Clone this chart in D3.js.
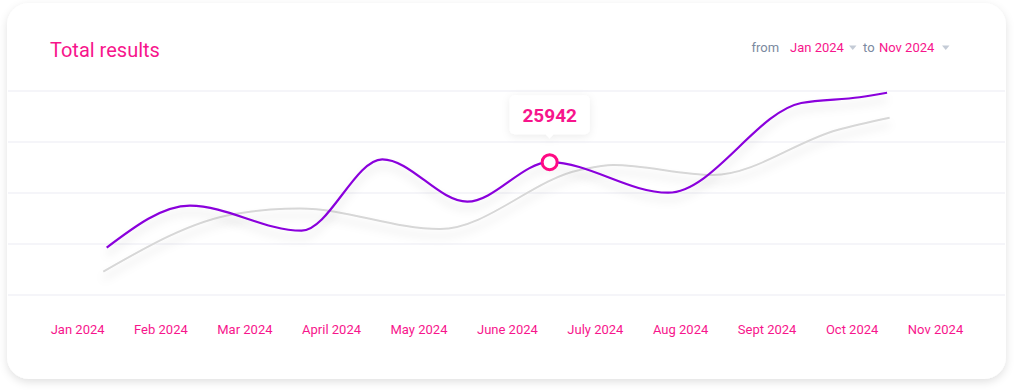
<!DOCTYPE html>
<html>
<head>
<meta charset="utf-8">
<script src="https://cdn.jsdelivr.net/npm/d3@7"></script>
<style>
  html, body { margin: 0; padding: 0; background: #ffffff; }
  svg { display: block; font-family: Roboto, "Noto Sans", sans-serif; }
</style>
</head>
<body>
<svg id="chart" width="1015" height="390"></svg>
<script>
// month labels along the bottom
const months = ["Jan 2024", "Feb 2024", "Mar 2024", "April 2024", "May 2024", "June 2024",
                "July 2024", "Aug 2024", "Sept 2024", "Oct 2024", "Nov 2024"];

// current period (purple) - position in months from Jan, value
const currentMonth = [0.34, 1.31, 2.61, 3.55, 4.54, 5.5, 6.88, 8.43, 9.11, 9.43];
const currentValue = [9180, 17410, 12510, 26510, 18200, 25942, 19960, 37550, 38670, 39570];

// previous period (grey)
const previousMonth = [0.30, 1.83, 2.59, 4.22, 5.85, 6.24, 7.40, 8.85, 9.46];
const previousValue = [4470, 15780, 16860, 12840, 24410, 25390, 23430, 32260, 34670];

const gridValues = [0, 10000, 20000, 30000, 40000];
const highlightIndex = 5; // the point with the tooltip

const pink = "#f7158c";
const purple = "#8a00dc";

const svg = d3.select("#chart");
const defs = svg.append("defs");

const cardShadow = defs.append("filter").attr("id", "cardShadow")
    .attr("x", "-5%").attr("y", "-10%").attr("width", "110%").attr("height", "120%");
cardShadow.append("feDropShadow").attr("dx", 0).attr("dy", 3).attr("stdDeviation", 4)
    .attr("flood-color", "#000").attr("flood-opacity", 0.12);

const lineShadow = defs.append("filter").attr("id", "lineShadow")
    .attr("x", "-10%").attr("y", "-30%").attr("width", "120%").attr("height", "160%");
lineShadow.append("feDropShadow").attr("dx", 0).attr("dy", 7).attr("stdDeviation", 4)
    .attr("flood-color", "#000").attr("flood-opacity", 0.13);

const tipShadow = defs.append("filter").attr("id", "tipShadow")
    .attr("x", "-30%").attr("y", "-40%").attr("width", "160%").attr("height", "180%");
tipShadow.append("feDropShadow").attr("dx", 0).attr("dy", 2).attr("stdDeviation", 4)
    .attr("flood-color", "#000").attr("flood-opacity", 0.08);

// card
svg.append("rect")
    .attr("x", 7).attr("y", 3).attr("width", 999).attr("height", 376)
    .attr("rx", 22)
    .attr("fill", "#fff")
    .attr("filter", "url(#cardShadow)");

const x = d3.scaleLinear().domain([0, 10]).range([77.5, 936]);
const y = d3.scaleLinear().domain([0, 40000]).range([294.5, 90.5]);

// grid
svg.append("g")
    .attr("transform", "translate(8,0)")
    .call(d3.axisLeft(y).tickValues(gridValues).tickSize(-997).tickFormat(""))
    .call(g => g.select(".domain").remove())
    .call(g => g.selectAll(".tick line").attr("stroke", "#ebebf3").attr("stroke-width", 1.2));

// title
svg.append("text")
    .attr("x", 50).attr("y", 57)
    .attr("fill", pink)
    .style("font-size", "20px")
    .text("Total results");

// date range selector
const sel = svg.append("g").style("font-size", "13px");
sel.append("text").attr("x", 751.5).attr("y", 52).attr("fill", "#7b8aa0").text("from");
sel.append("text").attr("x", 790).attr("y", 52).attr("fill", pink).text(months[0]);
sel.append("text").attr("x", 863).attr("y", 52).attr("fill", "#7b8aa0").text("to");
sel.append("text").attr("x", 879).attr("y", 52).attr("fill", pink).text(months[months.length - 1]);
[849, 942].forEach(cx => {
  sel.append("path")
      .attr("d", `M${cx},45.5 L${cx + 7.5},45.5 L${cx + 3.75},50 Z`)
      .attr("fill", "#c4cbd6");
});

// month labels laid out with a fixed gap between them
const labels = svg.append("g").style("font-size", "13px");
let lx = 50.7;
months.forEach(m => {
  const t = labels.append("text").attr("x", lx).attr("y", 334).attr("fill", pink).text(m);
  lx += t.node().getComputedTextLength() + 29.5;
});

// lines
const line = d3.line()
    .x(d => x(d[0]))
    .y(d => y(d[1]))
    .curve(d3.curveMonotoneX);

const previous = previousMonth.map((m, i) => [m, previousValue[i]]);
const current = currentMonth.map((m, i) => [m, currentValue[i]]);

svg.append("path")
    .datum(previous)
    .attr("d", line)
    .attr("fill", "none")
    .attr("stroke", "#d7d7d7")
    .attr("stroke-width", 2)
    .attr("filter", "url(#lineShadow)");

svg.append("path")
    .datum(current)
    .attr("d", line)
    .attr("fill", "none")
    .attr("stroke", purple)
    .attr("stroke-width", 2.2)
    .attr("filter", "url(#lineShadow)");

// highlighted point + tooltip
const hx = x(currentMonth[highlightIndex]);
const hy = y(currentValue[highlightIndex]);

svg.append("circle")
    .attr("cx", hx).attr("cy", hy).attr("r", 7.5)
    .attr("fill", "#fff")
    .attr("stroke", "#ff0a84")
    .attr("stroke-width", 3);

const tip = svg.append("g").attr("transform", `translate(${hx},${hy - 23})`);
tip.append("path")
    .attr("d", "M-40,-39 a5,5 0 0 1 5,-5 h70 a5,5 0 0 1 5,5 v29 a5,5 0 0 1 -5,5 h-31 l-4,4 l-4,-4 h-31 a5,5 0 0 1 -5,-5 Z")
    .attr("fill", "#fff")
    .attr("filter", "url(#tipShadow)");
tip.append("text")
    .attr("x", 0).attr("y", -17)
    .attr("text-anchor", "middle")
    .attr("fill", pink)
    .style("font-size", "19px")
    .style("font-weight", "bold")
    .text(currentValue[highlightIndex]);
</script>
</body>
</html>
